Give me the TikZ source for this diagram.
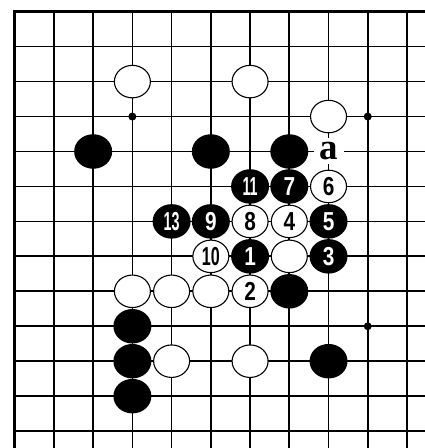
\documentclass[tikz,border=0pt]{standalone}
\usepackage{fontspec}
\usepackage{graphicx}
\usetikzlibrary{shapes.geometric}
\newfontfamily\numfont{Liberation Sans}
\newfontfamily\lblfont{Liberation Serif}
\newcommand\sqz[2][0.8]{\scalebox{#1}[1]{#2}}
\tikzset{
  gridline/.style={line width=1.7pt},
  edgeline/.style={line width=3pt, line cap=rect},
  hoshi/.style={circle, fill=black, minimum size=8pt, inner sep=0pt},
  blk/.style={ellipse, fill=black, minimum width=38pt, minimum height=34.5pt, inner sep=0pt,
    text=white, font=\numfont\bfseries\fontsize{26}{26}\selectfont},
  wht/.style={ellipse, draw=black, line width=1.1pt, fill=white, minimum width=36pt, minimum height=32.5pt,
    inner sep=0pt, text=black, font=\numfont\bfseries\fontsize{26}{26}\selectfont},
  lbl/.style={fill=white, inner sep=0pt, minimum width=30pt, minimum height=26pt,
    font=\lblfont\bfseries\fontsize{37}{37}\selectfont}
}
\begin{document}
\begin{tikzpicture}[x=1pt,y=1pt]
\useasboundingbox (0,0) rectangle (424,448);
\fill[white] (0,0) rectangle (424,448);
\begin{scope}[shift={(14.7pt,436.3pt)}, x=39.23pt, y=-34.95pt]
  % grid
  \draw[gridline] \foreach \r in {1,...,12} {(0,\r) -- (10.6,\r)};
  \draw[gridline] \foreach \c in {1,...,10} {(\c,0) -- (\c,12.7)};
  \draw[edgeline] (10.6,0) -- (0,0) -- (0,12.7);
  % star points
  \node[hoshi] (h1) at (3,3) {};
  \node[hoshi] (h2) at (9,3) {};
  \node[hoshi] (h3) at (9,9) {};
  % unnumbered white stones
  \node[wht] (wa) at (3,2) {};
  \node[wht] (wb) at (6,2) {};
  \node[wht] (wc) at (8,3) {};
  \node[wht] (wd) at (7,7) {};
  \node[wht] (we) at (3,8) {};
  \node[wht] (wf) at (4,8) {};
  \node[wht] (wg) at (5,8) {};
  \node[wht] (wh) at (4,10) {};
  \node[wht] (wi) at (6,10) {};
  % unnumbered black stones
  \node[blk] (ba) at (2,4) {};
  \node[blk] (bb) at (5,4) {};
  \node[blk] (bc) at (7,4) {};
  \node[blk] (bd) at (7,8) {};
  \node[blk] (be) at (3,9) {};
  \node[blk] (bf) at (3,10) {};
  \node[blk] (bg) at (8,10) {};
  \node[blk] (bh) at (3,11) {};
  % numbered moves
  \node[blk] (m1) at (6,7) {\sqz{1}};
  \node[wht] (m2) at (6,8) {\sqz{2}};
  \node[blk] (m3) at (8,7) {\sqz{3}};
  \node[wht] (m4) at (7,6) {\sqz{4}};
  \node[blk] (m5) at (8,6) {\sqz{5}};
  \node[wht] (m6) at (8,5) {\sqz{6}};
  \node[blk] (m7) at (7,5) {\sqz{7}};
  \node[wht] (m8) at (6,6) {\sqz{8}};
  \node[blk] (m9) at (5,6) {\sqz{9}};
  \node[wht] (m10) at (5,7) {\sqz[0.62]{10}};
  \node[blk] (m11) at (6,5) {\sqz[0.55]{11}};
  \node[blk] (m13) at (4,6) {\sqz[0.55]{13}};
  % label
  \node[lbl] (la) at (8,4) {a};
\end{scope}
\end{tikzpicture}
\end{document}
